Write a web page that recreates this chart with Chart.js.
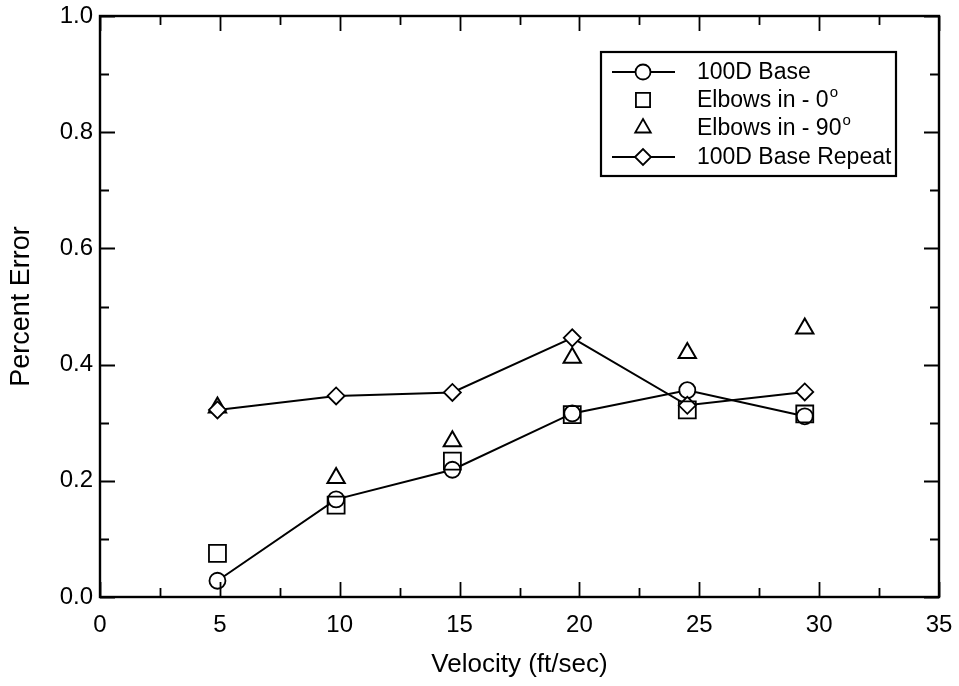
<!DOCTYPE html>
<html>
<head>
<meta charset="utf-8">
<script src="https://cdn.jsdelivr.net/npm/chart.js@4/dist/chart.umd.min.js"></script>
<style>
  html, body { margin: 0; padding: 0; background: #fff; }
  #wrap { width: 959px; height: 686px; position: relative; }
</style>
</head>
<body>
<div id="wrap"><canvas id="c" width="959" height="686"></canvas></div>
<script>
// ---- data ----
const velocity   = [4.9, 9.85, 14.7, 19.7, 24.5, 29.4];
const base100D   = [0.028, 0.168, 0.219, 0.316, 0.356, 0.311];
const elbows0    = [0.075, 0.158, 0.234, 0.314, 0.322, 0.315];
const elbows90   = [0.326, 0.205, 0.268, 0.412, 0.420, 0.462];
const baseRepeat = [0.322, 0.346, 0.352, 0.446, 0.330, 0.353];
const seriesNames = ['100D Base', 'Elbows in - 0°', 'Elbows in - 90°', '100D Base Repeat'];
const xTicks = [0, 5, 10, 15, 20, 25, 30, 35];
const yTicks = [0.0, 0.2, 0.4, 0.6, 0.8, 1.0];
const xAxisTitle = 'Velocity (ft/sec)';
const yAxisTitle = 'Percent Error';

const pts = (ys) => velocity.map((v, i) => ({x: v, y: ys[i]}));
const FONT = "'Liberation Sans', Arial, Helvetica, sans-serif";

const datasets = [
  {label: seriesNames[0], data: pts(base100D), showLine: true, borderColor: '#000', borderWidth: 2,
   pointStyle: 'circle', pointRadius: 8, pointBorderWidth: 1.8, pointBackgroundColor: '#fff', pointBorderColor: '#000', order: 3},
  {label: seriesNames[1], data: pts(elbows0), showLine: false, borderColor: '#000',
   pointStyle: 'rect', pointRadius: 12, pointBorderWidth: 1.8, pointBackgroundColor: 'rgba(0,0,0,0)', pointBorderColor: '#000', order: 1},
  {label: seriesNames[2], data: pts(elbows90), showLine: false, borderColor: '#000',
   pointStyle: 'triangle', pointRadius: 10, pointBorderWidth: 2, pointBackgroundColor: 'rgba(0,0,0,0)', pointBorderColor: '#000', order: 4},
  {label: seriesNames[3], data: pts(baseRepeat), showLine: true, borderColor: '#000', borderWidth: 2,
   pointStyle: 'rectRot', pointRadius: 8.5, pointBorderWidth: 1.8, pointBackgroundColor: '#fff', pointBorderColor: '#000', order: 2}
];

function drawMarker(ctx, style, x, y, r) {
  ctx.beginPath();
  if (style === 'circle') {
    ctx.arc(x, y, r, 0, Math.PI * 2);
  } else if (style === 'rect') {
    const s = Math.SQRT1_2 * r;
    ctx.rect(x - s, y - s, 2 * s, 2 * s);
  } else if (style === 'triangle') {
    ctx.moveTo(x, y - r);
    ctx.lineTo(x + r * Math.sin(2 * Math.PI / 3), y - r * Math.cos(2 * Math.PI / 3));
    ctx.lineTo(x + r * Math.sin(4 * Math.PI / 3), y - r * Math.cos(4 * Math.PI / 3));
    ctx.closePath();
  } else if (style === 'rectRot') {
    ctx.moveTo(x - r, y); ctx.lineTo(x, y - r); ctx.lineTo(x + r, y); ctx.lineTo(x, y + r);
    ctx.closePath();
  }
}

const framePlugin = {
  id: 'frameTicks',
  afterDraw(chart) {
    const {ctx, chartArea: a, scales: {x, y}} = chart;
    ctx.save();
    ctx.strokeStyle = '#000';
    // frame
    ctx.lineWidth = 2.4;
    ctx.strokeRect(a.left, a.top, a.right - a.left, a.bottom - a.top);
    // ticks inward on all four sides
    ctx.lineWidth = 1.8;
    const MAJ = 15, MIN = 9;
    for (let v = 0; v <= 35 + 1e-9; v += 2.5) {
      const px = Math.round(x.getPixelForValue(v)) + 0.5;
      const len = (Math.abs(v % 5) < 1e-6) ? MAJ : MIN;
      ctx.beginPath();
      ctx.moveTo(px, a.bottom); ctx.lineTo(px, a.bottom - len);
      ctx.moveTo(px, a.top); ctx.lineTo(px, a.top + len);
      ctx.stroke();
    }
    for (let i = 0; i <= 10; i++) {
      const v = i / 10;
      const py = Math.round(y.getPixelForValue(v)) + 0.5;
      const len = (i % 2 === 0) ? MAJ : MIN;
      ctx.beginPath();
      ctx.moveTo(a.left, py); ctx.lineTo(a.left + len, py);
      ctx.moveTo(a.right, py); ctx.lineTo(a.right - len, py);
      ctx.stroke();
    }
    // legend box
    const bx = 601, by = 52, bw = 295, bh = 124;
    ctx.fillStyle = '#fff';
    ctx.fillRect(bx, by, bw, bh);
    ctx.lineWidth = 2.2;
    ctx.strokeRect(bx, by, bw, bh);
    const rowY = [72, 100, 128, 157];
    const radii = [7.5, 10, 9, 8];
    chart.data.datasets.forEach((ds, i) => {
      const yy = rowY[i];
      ctx.strokeStyle = '#000';
      if (ds.showLine) {
        ctx.lineWidth = 2;
        ctx.beginPath(); ctx.moveTo(612, yy); ctx.lineTo(675, yy); ctx.stroke();
      }
      drawMarker(ctx, ds.pointStyle, 643, yy, radii[i]);
      ctx.fillStyle = '#fff';
      ctx.fill();
      ctx.lineWidth = 1.8;
      ctx.stroke();
      // text, with degree drawn as superscript "o"
      ctx.fillStyle = '#000';
      ctx.textBaseline = 'middle';
      ctx.textAlign = 'left';
      ctx.font = '23px ' + FONT;
      let label = ds.label;
      let sup = '';
      if (label.endsWith('°')) { label = label.slice(0, -1); sup = 'o'; }
      ctx.fillText(label, 697, yy + 1);
      if (sup) {
        const w = ctx.measureText(label).width;
        ctx.font = '15px ' + FONT;
        ctx.fillText(sup, 697 + w + 1, yy - 7);
      }
    });
    ctx.restore();
  }
};

new Chart(document.getElementById('c'), {
  type: 'scatter',
  data: {datasets},
  options: {
    responsive: false,
    animation: false,
    devicePixelRatio: 1,
    layout: {padding: {left: 0, top: 16, right: 20, bottom: 0}},
    plugins: {legend: {display: false}, tooltip: {enabled: false}},
    scales: {
      x: {
        type: 'linear', min: 0, max: 35,
        afterBuildTicks: (s) => { s.ticks = xTicks.map(v => ({value: v})); },
        afterFit: (s) => { s.height = 89; s.paddingLeft = 0; s.paddingRight = 0; },
        grid: {display: false, drawTicks: false},
        border: {display: false},
        ticks: {color: '#000', padding: 14, font: {family: FONT, size: 24}, callback: (v) => String(v)},
        title: {display: true, text: xAxisTitle, color: '#000', font: {family: FONT, size: 26, lineHeight: 1}, padding: {top: 0, bottom: 8}}
      },
      y: {
        type: 'linear', min: 0, max: 1,
        afterBuildTicks: (s) => { s.ticks = yTicks.map(v => ({value: v})); },
        afterFit: (s) => { s.width = 100; s.paddingTop = 0; s.paddingBottom = 0; },
        grid: {display: false, drawTicks: false},
        border: {display: false},
        ticks: {color: '#000', padding: 7, font: {family: FONT, size: 24}, callback: (v) => Number(v).toFixed(1)},
        title: {display: true, text: yAxisTitle, color: '#000', font: {family: FONT, size: 27, lineHeight: 1}, padding: {top: 8, bottom: 0}}
      }
    }
  },
  plugins: [framePlugin]
});
</script>
</body>
</html>
